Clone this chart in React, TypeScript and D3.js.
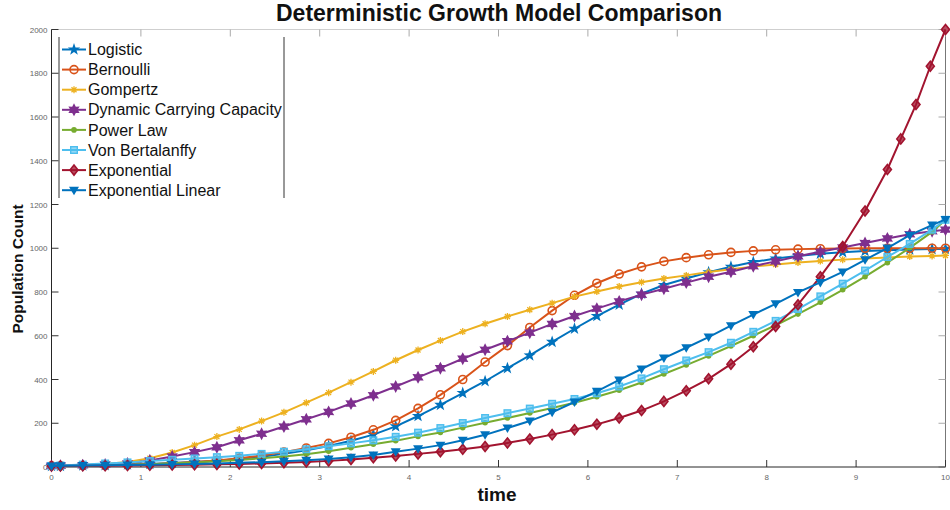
import * as d3 from "d3";
import { useEffect, useRef } from "react";

// solver output times
const TIME = [
  0, 0.1, 0.35, 0.6, 0.85, 1.1, 1.35, 1.6, 1.85, 2.1, 2.35, 2.6, 2.85, 3.1, 3.35, 3.6, 3.85, 4.1, 4.35, 4.6, 4.85,
  5.1, 5.35, 5.6, 5.85, 6.1, 6.35, 6.6, 6.85, 7.1, 7.35, 7.6, 7.85, 8.1, 8.35, 8.6, 8.85, 9.1, 9.35, 9.6, 9.85, 10,
];
const EXP_TIME = [
  0, 0.1, 0.35, 0.6, 0.85, 1.1, 1.35, 1.6, 1.85, 2.1, 2.35, 2.6, 2.85, 3.1, 3.35, 3.6, 3.85, 4.1, 4.35, 4.6, 4.85,
  5.1, 5.35, 5.6, 5.85, 6.1, 6.35, 6.6, 6.85, 7.1, 7.35, 7.6, 7.85, 8.1, 8.35, 8.6, 8.85, 9.1, 9.35, 9.5, 9.67, 9.83, 10,
];

const LOGISTIC = [
  5, 5, 7, 8, 11, 14, 18, 23, 29, 37, 47, 60, 76, 96, 120, 148, 186, 233, 284, 338, 392,
  452, 510, 572, 632, 690, 742, 792, 832, 862, 890, 915, 937, 953, 965, 975, 982, 987, 991, 994, 996, 997,
];
const BERNOULLI = [
  5, 5, 6, 8, 10, 13, 17, 23, 30, 40, 52, 68, 87, 108, 136, 170, 213, 268, 330, 400, 480,
  555, 638, 715, 785, 840, 882, 915, 940, 957, 970, 981, 988, 993, 996, 998, 999, 1000, 1000, 1000, 1000, 1000,
];
const GOMPERTZ = [
  5, 6, 9, 14, 23, 40, 66, 100, 139, 172, 210, 250, 294, 340, 388, 437, 488, 535, 578, 619, 655,
  688, 719, 749, 779, 802, 825, 845, 862, 876, 891, 904, 916, 926, 935, 942, 948, 953, 958, 962, 965, 967,
];
const DYNAMIC_CC = [
  5, 6, 8, 11, 16, 30, 48, 68, 90, 122, 152, 185, 218, 252, 290, 328, 368, 410, 452, 495, 536,
  575, 614, 654, 690, 724, 757, 788, 815, 843, 870, 893, 918, 940, 963, 984, 1003, 1024, 1045, 1064, 1078, 1085,
];
const POWER_LAW = [
  5, 5, 6, 8, 10, 13, 17, 21, 26, 32, 40, 48, 58, 72, 88, 104, 120, 140, 158, 180, 202,
  224, 247, 270, 294, 321, 351, 386, 425, 466, 508, 553, 600, 648, 699, 753, 810, 870, 934, 1002, 1075, 1130,
];
const VON_BERTALANFFY = [
  5, 7, 11, 16, 21, 27, 33, 39, 45, 51, 60, 70, 81, 95, 108, 122, 138, 157, 178, 201, 224,
  246, 267, 289, 311, 337, 368, 405, 447, 487, 525, 568, 618, 668, 722, 780, 838, 898, 960, 1020, 1085, 1130,
];
const EXPONENTIAL = [
  5, 5, 6, 6, 7, 8, 9, 10, 12, 14, 16, 19, 23, 28, 34, 42, 50, 60, 70, 81, 94,
  110, 128, 148, 170, 195, 224, 258, 300, 349, 403, 470, 550, 642, 742, 870, 1008, 1170, 1360, 1500, 1657, 1832, 2000,
];
const EXP_LINEAR = [
  5, 6, 7, 8, 9, 10, 12, 14, 16, 19, 22, 26, 31, 37, 45, 55, 70, 84, 100, 122, 147,
  178, 210, 250, 297, 346, 398, 448, 498, 545, 594, 646, 697, 746, 798, 844, 892, 947, 1001, 1060, 1106, 1132,
];

const NAMES = [
  "Logistic",
  "Bernoulli",
  "Gompertz",
  "Dynamic Carrying Capacity",
  "Power Law",
  "Von Bertalanffy",
  "Exponential",
  "Exponential Linear",
];
const COLORS = ["#0072BD", "#D95319", "#EDB120", "#7E2F8E", "#77AC30", "#4DBEEE", "#A2142F", "#0072BD"];
const MARKERS = ["star", "circle", "asterisk", "hexagram", "dot", "square", "diamond", "triangle"];
const VALUES = [LOGISTIC, BERNOULLI, GOMPERTZ, DYNAMIC_CC, POWER_LAW, VON_BERTALANFFY, EXPONENTIAL, EXP_LINEAR];
const TIMES = [TIME, TIME, TIME, TIME, TIME, TIME, EXP_TIME, TIME];

const X_TICKS = [0, 1, 2, 3, 4, 5, 6, 7, 8, 9, 10];
const Y_TICKS = [0, 200, 400, 600, 800, 1000, 1200, 1400, 1600, 1800, 2000];

const FONT = "'Liberation Sans', Arial, sans-serif";

function starPath(points: number, outer: number, inner: number) {
  const pts: [number, number][] = [];
  for (let i = 0; i < points * 2; i++) {
    const r = i % 2 === 0 ? outer : inner;
    const a = -Math.PI / 2 + (i * Math.PI) / points;
    pts.push([r * Math.cos(a), r * Math.sin(a)]);
  }
  return "M" + pts.map((p) => p.join(",")).join("L") + "Z";
}

// draws one marker centred at (0,0) inside g
function addMarker(g: any, kind: string, color: string) {
  switch (kind) {
    case "star":
      g.append("path").attr("d", starPath(5, 6.5, 2.6)).attr("fill", color);
      break;
    case "hexagram":
      g.append("path").attr("d", starPath(6, 6.5, 3.6)).attr("fill", color);
      break;
    case "circle":
      g.append("circle").attr("r", 4).attr("fill", "none").attr("stroke", color).attr("stroke-width", 1.6);
      break;
    case "dot":
      g.append("circle").attr("r", 2.8).attr("fill", color);
      break;
    case "square":
      g.append("rect")
        .attr("x", -3.3)
        .attr("y", -3.3)
        .attr("width", 6.6)
        .attr("height", 6.6)
        .attr("fill", color)
        .attr("fill-opacity", 0.6)
        .attr("stroke", color)
        .attr("stroke-width", 1.4);
      break;
    case "diamond":
      g.append("path")
        .attr("d", "M0,-5L4,0L0,5L-4,0Z")
        .attr("fill", color)
        .attr("fill-opacity", 0.75)
        .attr("stroke", color)
        .attr("stroke-width", 1.6);
      break;
    case "triangle":
      g.append("path").attr("d", "M-5,-3.5L5,-3.5L0,5Z").attr("fill", color);
      break;
    case "asterisk":
      g.append("path")
        .attr("d", "M-3.5,0L3.5,0M0,-3.5L0,3.5M-2.5,-2.5L2.5,2.5M-2.5,2.5L2.5,-2.5")
        .attr("stroke", color)
        .attr("stroke-width", 1.3)
        .attr("fill", "none");
      break;
  }
}

const App = () => {
  const svgRef = useRef(null);

  useEffect(() => {
    const width = 950;
    const height = 510;
    const left = 51.5;
    const right = 945.5;
    const top = 29.5;
    const bottom = 467;

    const svg = d3.select(svgRef.current);
    svg.selectAll("*").remove();
    svg.attr("width", width).attr("height", height).style("font-family", FONT);

    svg.append("rect").attr("width", width).attr("height", height).attr("fill", "#fff");

    const x = d3.scaleLinear().domain([0, 10]).range([left, right]);
    const y = d3.scaleLinear().domain([0, 2000]).range([bottom, top]);

    // box
    svg.append("line").attr("x1", left).attr("x2", right).attr("y1", top).attr("y2", top).attr("stroke", "#cfcfcf");
    svg.append("line").attr("x1", right).attr("x2", right).attr("y1", top).attr("y2", bottom).attr("stroke", "#777");

    // ticks (inside, MATLAB style)
    const tl = 7;
    const tickG = svg.append("g");
    X_TICKS.forEach((t) => {
      tickG.append("line").attr("x1", x(t)).attr("x2", x(t)).attr("y1", bottom).attr("y2", bottom - tl).attr("stroke", "#333");
      tickG.append("line").attr("x1", x(t)).attr("x2", x(t)).attr("y1", top).attr("y2", top + tl).attr("stroke", "#aaa");
      tickG.append("text")
        .attr("x", x(t))
        .attr("y", bottom + 13)
        .attr("text-anchor", "middle")
        .attr("font-size", 8)
        .attr("fill", "#666")
        .text(t);
    });
    Y_TICKS.forEach((v) => {
      tickG.append("line").attr("x1", left).attr("x2", left + tl).attr("y1", y(v)).attr("y2", y(v)).attr("stroke", "#333");
      tickG.append("line").attr("x1", right).attr("x2", right - tl).attr("y1", y(v)).attr("y2", y(v)).attr("stroke", "#aaa");
      tickG.append("text")
        .attr("x", left - 4)
        .attr("y", y(v) + 3)
        .attr("text-anchor", "end")
        .attr("font-size", 8)
        .attr("fill", "#666")
        .text(v);
    });

    svg.append("line").attr("x1", left).attr("x2", left).attr("y1", top).attr("y2", bottom).attr("stroke", "#262626");
    svg.append("line").attr("x1", left).attr("x2", right).attr("y1", bottom).attr("y2", bottom).attr("stroke", "#262626");

    // series
    const line = d3
      .line<[number, number]>()
      .x((d) => x(d[0]))
      .y((d) => y(d[1]));

    NAMES.forEach((name, i) => {
      const pts: [number, number][] = VALUES[i].map((v, j) => [TIMES[i][j], v]);
      const g = svg.append("g");
      g.append("path")
        .datum(pts)
        .attr("d", line)
        .attr("fill", "none")
        .attr("stroke", COLORS[i])
        .attr("stroke-width", 2);
      pts.forEach((p) => {
        const m = g.append("g").attr("transform", `translate(${x(p[0])},${y(p[1])})`);
        addMarker(m, MARKERS[i], COLORS[i]);
      });
    });

    // legend
    const lg = svg.append("g");
    lg.append("rect").attr("x", 59).attr("y", 37).attr("width", 225).attr("height", 161).attr("fill", "#fff");
    lg.append("line").attr("x1", 59).attr("x2", 59).attr("y1", 37).attr("y2", 198).attr("stroke", "#333");
    lg.append("line").attr("x1", 284).attr("x2", 284).attr("y1", 37).attr("y2", 198).attr("stroke", "#333");
    NAMES.forEach((name, i) => {
      const cy = 49.5 + i * 20.1;
      lg.append("line").attr("x1", 62).attr("x2", 86).attr("y1", cy).attr("y2", cy).attr("stroke", COLORS[i]).attr("stroke-width", 2);
      addMarker(lg.append("g").attr("transform", `translate(74,${cy})`), MARKERS[i], COLORS[i]);
      lg.append("text")
        .attr("x", 88)
        .attr("y", cy + 5.6)
        .attr("font-size", 16)
        .attr("fill", "#111")
        .text(name);
    });

    // titles
    svg.append("text")
      .attr("x", 499)
      .attr("y", 21)
      .attr("text-anchor", "middle")
      .attr("font-size", 23)
      .attr("font-weight", "bold")
      .attr("fill", "#111")
      .text("Deterministic Growth Model Comparison");
    svg.append("text")
      .attr("x", 497)
      .attr("y", 501)
      .attr("text-anchor", "middle")
      .attr("font-size", 19)
      .attr("font-weight", "bold")
      .attr("fill", "#111")
      .text("time");
    svg.append("text")
      .attr("transform", `translate(23,269) rotate(-90)`)
      .attr("text-anchor", "middle")
      .attr("font-size", 15.5)
      .attr("font-weight", "bold")
      .attr("fill", "#111")
      .text("Population Count");
  }, []);

  return <svg ref={svgRef} style={{ position: "absolute", left: 0, top: 0, display: "block" }}></svg>;
};

export default App;
